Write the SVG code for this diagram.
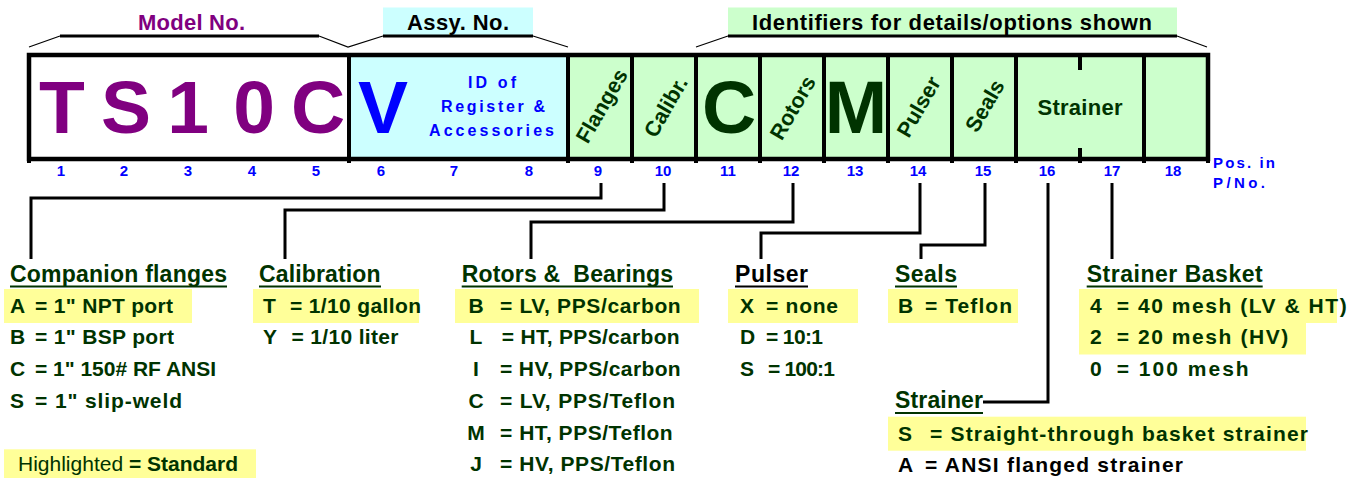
<svg xmlns="http://www.w3.org/2000/svg" width="1362" height="478" viewBox="0 0 1362 478">
<style>
text{font-family:"Liberation Sans",Arial,Helvetica,sans-serif;font-weight:bold}
.g{fill:#003300}
.k{fill:#000}
.b{fill:#0000FF}
.p{fill:#800080}
.big{font-size:75px;text-anchor:middle}
.rot{font-size:21.5px;text-anchor:middle;fill:#003300}
.pos{font-size:15px;text-anchor:middle;fill:#0000FF}
.top{font-size:22px}
.hdr{font-size:23px}
.it{font-size:21px}
.mid{text-anchor:middle}
.hl{fill:#FFFF99}
.ulg{stroke:#003300;stroke-width:2}
.ulk{stroke:#000;stroke-width:2}
.conn{fill:none;stroke:#000;stroke-width:3}
.thin{fill:none;stroke:#000;stroke-width:1.2}
.thick{fill:none;stroke:#000;stroke-width:3}
.div{stroke:#000;stroke-width:4}
</style>

<!-- header labels -->
<g id="model-no">
<text class="top p" x="138" y="30" textLength="107">Model No.</text>
</g>
<g id="assy-no">
<rect x="383" y="7.5" width="150" height="28" fill="#CCFFFF"/>
<text class="top k" x="407" y="30" textLength="102">Assy. No.</text>
</g>
<g id="identifiers">
<rect x="728" y="7.5" width="449" height="28" fill="#CCFFCC"/>
<text class="top k" x="752" y="30" textLength="400">Identifiers for details/options shown</text>
</g>

<!-- code box -->
<g id="code-box">
<rect x="29" y="55" width="320" height="104" fill="#FFFFFF"/>
<rect x="349" y="55" width="219" height="104" fill="#CCFFFF"/>
<rect x="568" y="55" width="640" height="104" fill="#CCFFCC"/>
<g class="div">
<line x1="29" y1="55" x2="29" y2="163"/>
<line x1="349" y1="55" x2="349" y2="163"/>
<line x1="568" y1="55" x2="568" y2="163"/>
<line x1="632" y1="55" x2="632" y2="163"/>
<line x1="696" y1="55" x2="696" y2="163"/>
<line x1="760" y1="55" x2="760" y2="163"/>
<line x1="824" y1="55" x2="824" y2="163"/>
<line x1="888" y1="55" x2="888" y2="163"/>
<line x1="952" y1="55" x2="952" y2="163"/>
<line x1="1016" y1="55" x2="1016" y2="163"/>
<line x1="1144" y1="55" x2="1144" y2="163"/>
<line x1="1208" y1="55" x2="1208" y2="163"/>
<line x1="1080" y1="55" x2="1080" y2="70"/>
<line x1="1080" y1="148" x2="1080" y2="163"/>
</g>
<rect x="29" y="55" width="1179" height="104" fill="none" stroke="#000" stroke-width="4.5"/>
<text class="big p" x="62" y="133">T</text>
<text class="big p" x="126" y="133">S</text>
<text class="big p" x="188" y="133">1</text>
<text class="big p" x="254" y="133">0</text>
<text class="big p" x="318" y="133">C</text>
<text class="big b" x="383" y="133">V</text>
<text class="b mid" font-size="16" x="492" y="88" textLength="48">ID of</text>
<text class="b mid" font-size="16" x="493" y="112" textLength="104">Register &amp;</text>
<text class="b mid" font-size="16" x="491.5" y="136" textLength="125">Accessories</text>
<text class="rot" transform="translate(602,106) rotate(-60)" y="7">Flanges</text>
<text class="rot" transform="translate(666,107) rotate(-60)" y="7">Calibr.</text>
<text class="big g" x="729" y="133">C</text>
<text class="rot" transform="translate(793,108) rotate(-60)" y="7">Rotors</text>
<text class="big g" x="856" y="133">M</text>
<text class="rot" transform="translate(919,107) rotate(-60)" y="7">Pulser</text>
<text class="rot" transform="translate(985,106) rotate(-60)" y="7">Seals</text>
<text class="g mid" font-size="22" x="1080" y="115" textLength="85">Strainer</text>
</g>

<g id="positions">
<text class="pos" x="61" y="176">1</text>
<text class="pos" x="124" y="176">2</text>
<text class="pos" x="188" y="176">3</text>
<text class="pos" x="252" y="176">4</text>
<text class="pos" x="316" y="176">5</text>
<text class="pos" x="381" y="176">6</text>
<text class="pos" x="454" y="176">7</text>
<text class="pos" x="529" y="176">8</text>
<text class="pos" x="598" y="176">9</text>
<text class="pos" x="663" y="176">10</text>
<text class="pos" x="728" y="176">11</text>
<text class="pos" x="791" y="176">12</text>
<text class="pos" x="855" y="176">13</text>
<text class="pos" x="918" y="176">14</text>
<text class="pos" x="983" y="176">15</text>
<text class="pos" x="1047" y="176">16</text>
<text class="pos" x="1112" y="176">17</text>
<text class="pos" x="1173" y="176">18</text>
<text class="b" font-size="15" x="1213" y="168" textLength="62">Pos. in</text>
<text class="b" font-size="15" x="1213" y="188" textLength="52">P/No.</text>
</g>

<!-- connectors -->
<g id="connectors">
<path class="thin" d="M29,47 L60,36 M319,36 L348,47 L383,36 M533,36 L568,47 M696,47 L728,36 M1177,36 L1207,47"/>
<path class="thick" d="M60,36 H319 M383,36 H533 M728,36 H1177"/>
<path class="conn" d="M601,183 V198 H31 V259"/>
<path class="conn" d="M664,183 V210 H285 V259"/>
<path class="conn" d="M793,183 V222 H531 V259"/>
<path class="conn" d="M920,183 V233 H761 V259"/>
<path class="conn" d="M985,183 V245 H921 V259"/>
<path class="conn" d="M1048,183 V402 H983"/>
<path class="conn" d="M1112,183 V259"/>
</g>

<g id="flanges">
<rect class="hl" x="4" y="289" width="188" height="34"/>
<text class="hdr g" x="10" y="282" textLength="217">Companion flanges</text>
<line class="ulg" x1="10" y1="286.5" x2="227" y2="286.5"/>
<text class="it g" x="10" y="312.5">A</text><text class="it g" x="35" y="312.5" textLength="138">= 1" NPT port</text>
<text class="it g" x="10" y="344.2">B</text><text class="it g" x="35" y="344.2" textLength="139">= 1" BSP port</text>
<text class="it g" x="10" y="376">C</text><text class="it g" x="35" y="376" textLength="181">= 1" 150# RF ANSI</text>
<text class="it g" x="10" y="407.7">S</text><text class="it g" x="35" y="407.7" textLength="147">= 1" slip-weld</text>
</g>

<g id="calibration">
<rect class="hl" x="253" y="289" width="166" height="34"/>
<text class="hdr g" x="259" y="282" textLength="121.5">Calibration</text>
<line class="ulg" x1="259" y1="286.5" x2="381" y2="286.5"/>
<text class="it g" x="263" y="312.5">T</text><text class="it g" x="290" y="312.5" textLength="131">= 1/10 gallon</text>
<text class="it g" x="263" y="344.2">Y</text><text class="it g" x="291.5" y="344.2" textLength="107">= 1/10 liter</text>
</g>

<g id="rotors">
<rect class="hl" x="455" y="289" width="244" height="34"/>
<text class="hdr g" x="461.7" y="282" textLength="211.3" xml:space="preserve">Rotors &amp;  Bearings</text>
<line class="ulg" x1="461.7" y1="286.5" x2="673" y2="286.5"/>
<text class="it g mid" x="476" y="312.5">B</text><text class="it g" x="500" y="312.5" textLength="180.7">= LV, PPS/carbon</text>
<text class="it g mid" x="476" y="344.2">L</text><text class="it g" x="501.7" y="344.2" textLength="178">= HT, PPS/carbon</text>
<text class="it g mid" x="476" y="376">I</text><text class="it g" x="500" y="376" textLength="180.7">= HV, PPS/carbon</text>
<text class="it g mid" x="476" y="407.7">C</text><text class="it g" x="500" y="407.7" textLength="175">= LV, PPS/Teflon</text>
<text class="it g mid" x="476" y="439.5">M</text><text class="it g" x="500" y="439.5" textLength="172.7">= HT, PPS/Teflon</text>
<text class="it g mid" x="476" y="471.2">J</text><text class="it g" x="500" y="471.2" textLength="175">= HV, PPS/Teflon</text>
</g>

<g id="pulser">
<rect class="hl" x="728" y="289" width="130" height="34"/>
<text class="hdr k" x="735" y="282" textLength="73">Pulser</text>
<line class="ulk" x1="735" y1="286.5" x2="808" y2="286.5"/>
<text class="it g" x="740" y="312.5">X</text><text class="it g" x="766" y="312.5" textLength="72">= none</text>
<text class="it g" x="740" y="344.2">D</text><text class="it g" x="766" y="344.2" textLength="57">= 10:1</text>
<text class="it g" x="740" y="376">S</text><text class="it g" x="768" y="376" textLength="67">= 100:1</text>
</g>

<g id="seals">
<rect class="hl" x="888" y="289" width="130" height="34"/>
<text class="hdr g" x="895" y="282" textLength="62">Seals</text>
<line class="ulg" x1="895" y1="286.5" x2="957" y2="286.5"/>
<text class="it g" x="898" y="312.5">B</text><text class="it g" x="925" y="312.5" textLength="87">= Teflon</text>
</g>

<g id="strainer-basket">
<rect class="hl" x="1079" y="289" width="258" height="34"/>
<rect class="hl" x="1079" y="323" width="227" height="31.5"/>
<text class="hdr g" x="1086.7" y="282" textLength="176">Strainer Basket</text>
<line class="ulg" x1="1086.7" y1="286.5" x2="1262.7" y2="286.5"/>
<text class="it g" x="1090" y="312.5">4</text><text class="it g" x="1116.7" y="312.5" textLength="230">= 40 mesh (LV &amp; HT)</text>
<text class="it g" x="1090" y="344.2">2</text><text class="it g" x="1116.7" y="344.2" textLength="171.6">= 20 mesh (HV)</text>
<text class="it g" x="1090" y="376">0</text><text class="it g" x="1116.7" y="376" textLength="132">= 100 mesh</text>
</g>

<g id="strainer">
<rect class="hl" x="888" y="416.7" width="418" height="34"/>
<text class="hdr g" x="895" y="408" textLength="88">Strainer</text>
<line class="ulg" x1="895" y1="413" x2="983" y2="413"/>
<text class="it g" x="898" y="440.7">S</text><text class="it g" x="930" y="440.7" textLength="378">= Straight-through basket strainer</text>
<text class="it k" x="898" y="471.5">A</text><text class="it k" x="925" y="471.5" textLength="258">= ANSI flanged strainer</text>
</g>

<g id="legend">
<rect class="hl" x="4" y="449.3" width="252" height="28.7"/>
<text class="g" font-size="21" x="18" y="471"><tspan font-weight="normal">Highlighted </tspan>= Standard</text>
</g>
</svg>
